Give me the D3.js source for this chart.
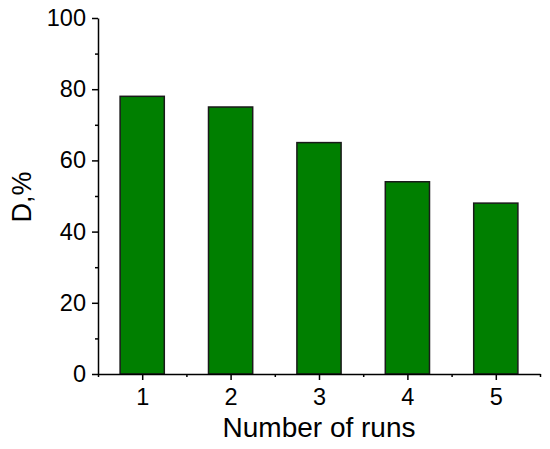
<!DOCTYPE html>
<html>
<head>
<meta charset="utf-8">
<script src="https://cdn.jsdelivr.net/npm/d3@7"></script>
<style>
  body { margin: 0; background: #fff; }
  text { font-family: "Liberation Sans", Arial, sans-serif; fill: #000; }
</style>
</head>
<body>
<div id="chart"></div>
<script>
// Bar chart: D,% by number of runs

const runs = [1, 2, 3, 4, 5];
const dValues = [78, 75, 65, 54, 48];
const yMajorTicks = [0, 20, 40, 60, 80, 100];
const yMinorTicks = [10, 30, 50, 70, 90];
const xMinorTicks = [0.5, 1.5, 2.5, 3.5, 4.5, 5.5];

const width = 550,
  height = 449;

const margin = { top: 18, right: 10, bottom: 75, left: 98 };

const svg = d3.select("#chart")
  .append("svg")
  .attr("width", width)
  .attr("height", height);

const x = d3.scaleLinear()
  .domain([0.5, 5.5])
  .range([margin.left, 540]);

const y = d3.scaleLinear()
  .domain([0, 100])
  .range([height - margin.bottom, margin.top]);

const barWidth = x(1.25) - x(0.75); // half a unit wide

// bars
svg.append("g")
  .selectAll("rect")
  .data(runs)
  .join("rect")
  .attr("x", (d) => x(d) - barWidth / 2)
  .attr("y", (d, i) => y(dValues[i]))
  .attr("width", barWidth)
  .attr("height", (d, i) => y(0) - y(dValues[i]))
  .attr("fill", "#007f00")
  .attr("stroke", "#1a1a1a")
  .attr("stroke-width", 1.5);

// minor ticks first, then the major axis on top
svg.append("g")
  .attr("transform", `translate(0,${y(0)})`)
  .call(d3.axisBottom(x).tickValues(xMinorTicks).tickSize(3).tickFormat(""))
  .call((g) => g.select(".domain").remove());

svg.append("g")
  .attr("transform", `translate(${x(0.5)},0)`)
  .call(d3.axisLeft(y).tickValues(yMinorTicks).tickSize(3).tickFormat(""))
  .call((g) => g.select(".domain").remove());

const xAxis = svg.append("g")
  .attr("transform", `translate(0,${y(0)})`)
  .call(d3.axisBottom(x).tickValues(runs).tickSize(6).tickSizeOuter(0).tickPadding(8).tickFormat(d3.format("d")));

const yAxis = svg.append("g")
  .attr("transform", `translate(${x(0.5)},0)`)
  .call(d3.axisLeft(y).tickValues(yMajorTicks).tickSize(6).tickSizeOuter(0).tickPadding(6));

[xAxis, yAxis].forEach((g) => {
  g.selectAll("text")
    .style("font-size", "23.5px")
    .style("font-family", "'Liberation Sans', Arial, sans-serif");
});

svg.selectAll("g line, g path").attr("stroke", "#000").attr("stroke-width", 1.5);

// axis titles
svg.append("text")
  .attr("x", (x(0.5) + x(5.5)) / 2)
  .attr("y", 437)
  .attr("text-anchor", "middle")
  .style("font-size", "28px")
  .text("Number of runs");

svg.append("text")
  .attr("transform", `translate(31,${y(50) + 1}) rotate(-90)`)
  .attr("text-anchor", "middle")
  .style("font-size", "27px")
  .text("D,%");
</script>
</body>
</html>
